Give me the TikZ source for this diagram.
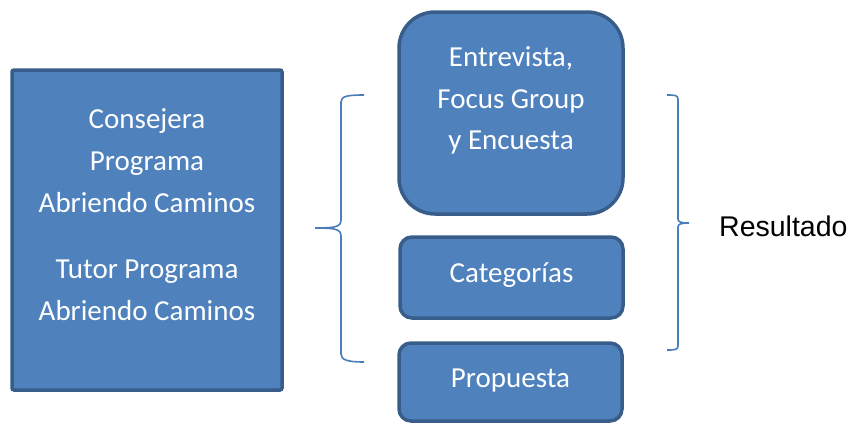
\documentclass[tikz,border=0pt]{standalone}
\usepackage{fontspec}
\setmainfont{Carlito}
\newfontfamily\arialfont{Liberation Sans}
\definecolor{boxfill}{HTML}{4F81BD}
\definecolor{boxline}{HTML}{385D8A}
\definecolor{braceline}{HTML}{4A7EBB}
\begin{document}
\begin{tikzpicture}[x=1pt,y=-1pt,
  bluebox/.style={draw=boxline, fill=boxfill, line width=3.5pt, inner sep=0pt},
  boxtext/.style={text=white, font=\fontsize{29}{42}\selectfont, align=center, anchor=base, inner sep=0pt},
  bracepath/.style={draw=braceline, line width=1.6pt}
]
\useasboundingbox (0,0) rectangle (851,423);
% left box
\node[bluebox, rounded corners=2pt, minimum width=270pt, minimum height=320pt] (left) at (147,230) {};
\node[boxtext] (t1) at (147,128) {Consejera};
\node[boxtext] (t2) at (147,170) {Programa};
\node[boxtext] (t3) at (147,212) {Abriendo Caminos};
\node[boxtext] (t4) at (147,278) {Tutor Programa};
\node[boxtext] (t5) at (147,320) {Abriendo Caminos};
% right boxes
\node[bluebox, rounded corners=36pt, minimum width=224pt, minimum height=202pt] (top) at (511,113) {};
\node[boxtext] (e1) at (511,66) {Entrevista,};
\node[boxtext] (e2) at (511,108) {Focus Group};
\node[boxtext] (e3) at (511,149) {y Encuesta};
\node[bluebox, rounded corners=12pt, minimum width=223pt, minimum height=81pt] (cat) at (511.5,277.5) {};
\node[boxtext] (ct) at (511.5,282) {Categorías};
\node[bluebox, rounded corners=12pt, minimum width=223pt, minimum height=78pt] (prop) at (510.5,382) {};
\node[boxtext] (pt) at (510.5,387) {Propuesta};
% braces
\coordinate (lb1) at (364,95);
\coordinate (lb2) at (315,228);
\coordinate (lb3) at (364,362);
\draw[bracepath] (lb1) .. controls (348,95) and (341,96) .. (341,102)
  -- (341,220) .. controls (341,227) and (335,228) .. (lb2)
  .. controls (335,228) and (341,229) .. (341,236)
  -- (341,354) .. controls (341,360) and (348,362) .. (lb3);
\coordinate (rb1) at (667,95);
\coordinate (rb2) at (689,223);
\coordinate (rb3) at (667,350);
\draw[bracepath] (rb1) .. controls (674,95) and (678,95) .. (678,99)
  -- (678,219) .. controls (678,222) and (681,223) .. (rb2)
  .. controls (681,223) and (678,224) .. (678,227)
  -- (678,346) .. controls (678,350) and (674,350) .. (rb3);
\node[anchor=base west, inner sep=0pt, font=\arialfont\fontsize{28.5}{34}\selectfont] (res) at (719,236) {Resultado};
\end{tikzpicture}
\end{document}
